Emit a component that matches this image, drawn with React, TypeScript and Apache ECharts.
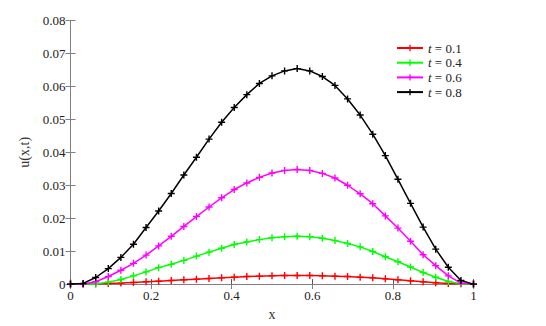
import React, { useEffect, useRef } from "react";
import * as echarts from "echarts";

const xValues = [
  0, 0.03125, 0.0625, 0.09375, 0.125, 0.15625, 0.1875, 0.21875, 0.25, 0.28125,
  0.3125, 0.34375, 0.375, 0.40625, 0.4375, 0.46875, 0.5, 0.53125, 0.5625,
  0.59375, 0.625, 0.65625, 0.6875, 0.71875, 0.75, 0.78125, 0.8125, 0.84375,
  0.875, 0.90625, 0.9375, 0.96875, 1,
];

const seriesNames = ["t = 0.1", "t = 0.4", "t = 0.6", "t = 0.8"];
const seriesColors = ["#ff0000", "#00ff00", "#ff00ff", "#000000"];

const uT01 = [
  0, 0, 0.0001, 0.0002, 0.0003, 0.0005, 0.0007, 0.0009, 0.0011, 0.0013, 0.0015,
  0.0017, 0.0019, 0.0021, 0.0023, 0.0024, 0.0025, 0.0026, 0.0026, 0.0026,
  0.0025, 0.0024, 0.0023, 0.0021, 0.0019, 0.0016, 0.0013, 0.001, 0.0007,
  0.0004, 0.0002, 0.0001, 0,
];
const uT04 = [
  0, 0, 0, 0.0006, 0.0014, 0.0025, 0.0037, 0.005, 0.006, 0.0072, 0.0085,
  0.0097, 0.0109, 0.012, 0.0128, 0.0135, 0.0141, 0.0144, 0.0145, 0.0144,
  0.0139, 0.0132, 0.0123, 0.0113, 0.0099, 0.0083, 0.0068, 0.0052, 0.0035,
  0.0021, 0.0008, 0.0001, 0,
];
const uT06 = [
  0, 0, 0.0007, 0.0023, 0.0042, 0.0063, 0.0088, 0.0116, 0.0145, 0.0175, 0.0205,
  0.0234, 0.0262, 0.0287, 0.0307, 0.0324, 0.0337, 0.0345, 0.0348, 0.0345,
  0.0336, 0.0322, 0.03, 0.0274, 0.0244, 0.0207, 0.017, 0.013, 0.0089, 0.0056,
  0.0025, 0.0003, 0,
];
const uT08 = [
  0, 0.0002, 0.002, 0.0047, 0.0081, 0.0121, 0.0172, 0.0222, 0.0275, 0.0331,
  0.0385, 0.044, 0.0491, 0.0536, 0.0575, 0.0609, 0.0632, 0.0647, 0.0654,
  0.0647, 0.063, 0.0603, 0.0562, 0.0513, 0.0455, 0.039, 0.0318, 0.0245,
  0.0173, 0.0106, 0.0051, 0.0011, 0,
];
const allSeries = [uT01, uT04, uT06, uT08];

const FONT = "'Liberation Serif', 'Times New Roman', serif";
const PLUS = "path://M4,0H6V4H10V6H6V10H4V6H0V4H4Z";

export default function App() {
  const ref = useRef<HTMLDivElement>(null);
  useEffect(() => {
    if (!ref.current) return;
    const chart = echarts.init(ref.current, undefined, { renderer: "svg" });
    const frameLine = { show: true, lineStyle: { color: "#808080", width: 1 } };
    chart.setOption({
      animation: false,
      backgroundColor: "#ffffff",
      textStyle: { fontFamily: FONT },
      grid: { left: 70.5, right: 72.5, top: 20.5, bottom: 36.5, containLabel: false },
      legend: {
        left: 391,
        top: 36.5,
        orient: "vertical",
        itemWidth: 26,
        itemHeight: 8,
        itemGap: 1.7,
        data: seriesNames,
        textStyle: {
          fontFamily: FONT,
          fontSize: 13,
          lineHeight: 13,
          color: "#222",
          rich: {
            it: { fontStyle: "italic", fontFamily: FONT, fontSize: 13, lineHeight: 13, color: "#222" },
            r: { fontFamily: FONT, fontSize: 13, lineHeight: 13, color: "#222" },
          },
        },
        formatter: (n: string) => "{it|t}{r|" + n.slice(1) + "}",
      },
      xAxis: [
        {
          type: "value",
          min: 0,
          max: 1,
          interval: 0.2,
          position: "bottom",
          name: "x",
          nameLocation: "middle",
          nameGap: 20,
          nameTextStyle: { fontFamily: FONT, fontSize: 14, color: "#333" },
          axisLine: { show: true, lineStyle: { color: "#555", width: 1 } },
          axisTick: { show: true, inside: true, length: 5, lineStyle: { color: "#555" } },
          axisLabel: {
            fontFamily: FONT,
            fontSize: 13,
            color: "#222",
            margin: 5,
            formatter: (v: number) => String(+v.toFixed(1)),
          },
          splitLine: { show: false },
        },
        {
          type: "value",
          min: 0,
          max: 1,
          interval: 0.2,
          position: "top",
          axisLine: frameLine,
          axisTick: { show: true, inside: true, length: 5, lineStyle: { color: "#808080" } },
          axisLabel: { show: false },
          splitLine: { show: false },
        },
      ],
      yAxis: [
        {
          type: "value",
          min: 0,
          max: 0.08,
          interval: 0.01,
          position: "left",
          name: "u(x,t)",
          nameLocation: "middle",
          nameGap: 31,
          nameTextStyle: { fontFamily: FONT, fontSize: 14, color: "#333" },
          axisLine: frameLine,
          axisTick: { show: true, inside: true, length: 5, lineStyle: { color: "#808080" } },
          axisLabel: {
            fontFamily: FONT,
            fontSize: 13,
            color: "#222",
            margin: 5,
            formatter: (v: number) => (v === 0 ? "0" : v.toFixed(2)),
          },
          splitLine: { show: false },
        },
        {
          type: "value",
          min: 0,
          max: 0.08,
          interval: 0.01,
          position: "right",
          axisLine: frameLine,
          axisTick: { show: true, inside: true, length: 5, lineStyle: { color: "#808080" } },
          axisLabel: { show: false },
          splitLine: { show: false },
        },
      ],
      series: allSeries.map((vals, k) => ({
        name: seriesNames[k],
        type: "line",
        xAxisIndex: 0,
        yAxisIndex: 0,
        data: vals.map((v, i) => [xValues[i], v]),
        symbol: PLUS,
        symbolSize: 7,
        showSymbol: true,
        clip: false,
        color: seriesColors[k],
        lineStyle: { color: seriesColors[k], width: 1.5 },
        itemStyle: { color: seriesColors[k] },
        z: 2 + k,
      })),
    });
    return () => chart.dispose();
  }, []);
  return <div ref={ref} style={{ width: 546, height: 326, position: "absolute", left: 0, top: 0 }} />;
}
